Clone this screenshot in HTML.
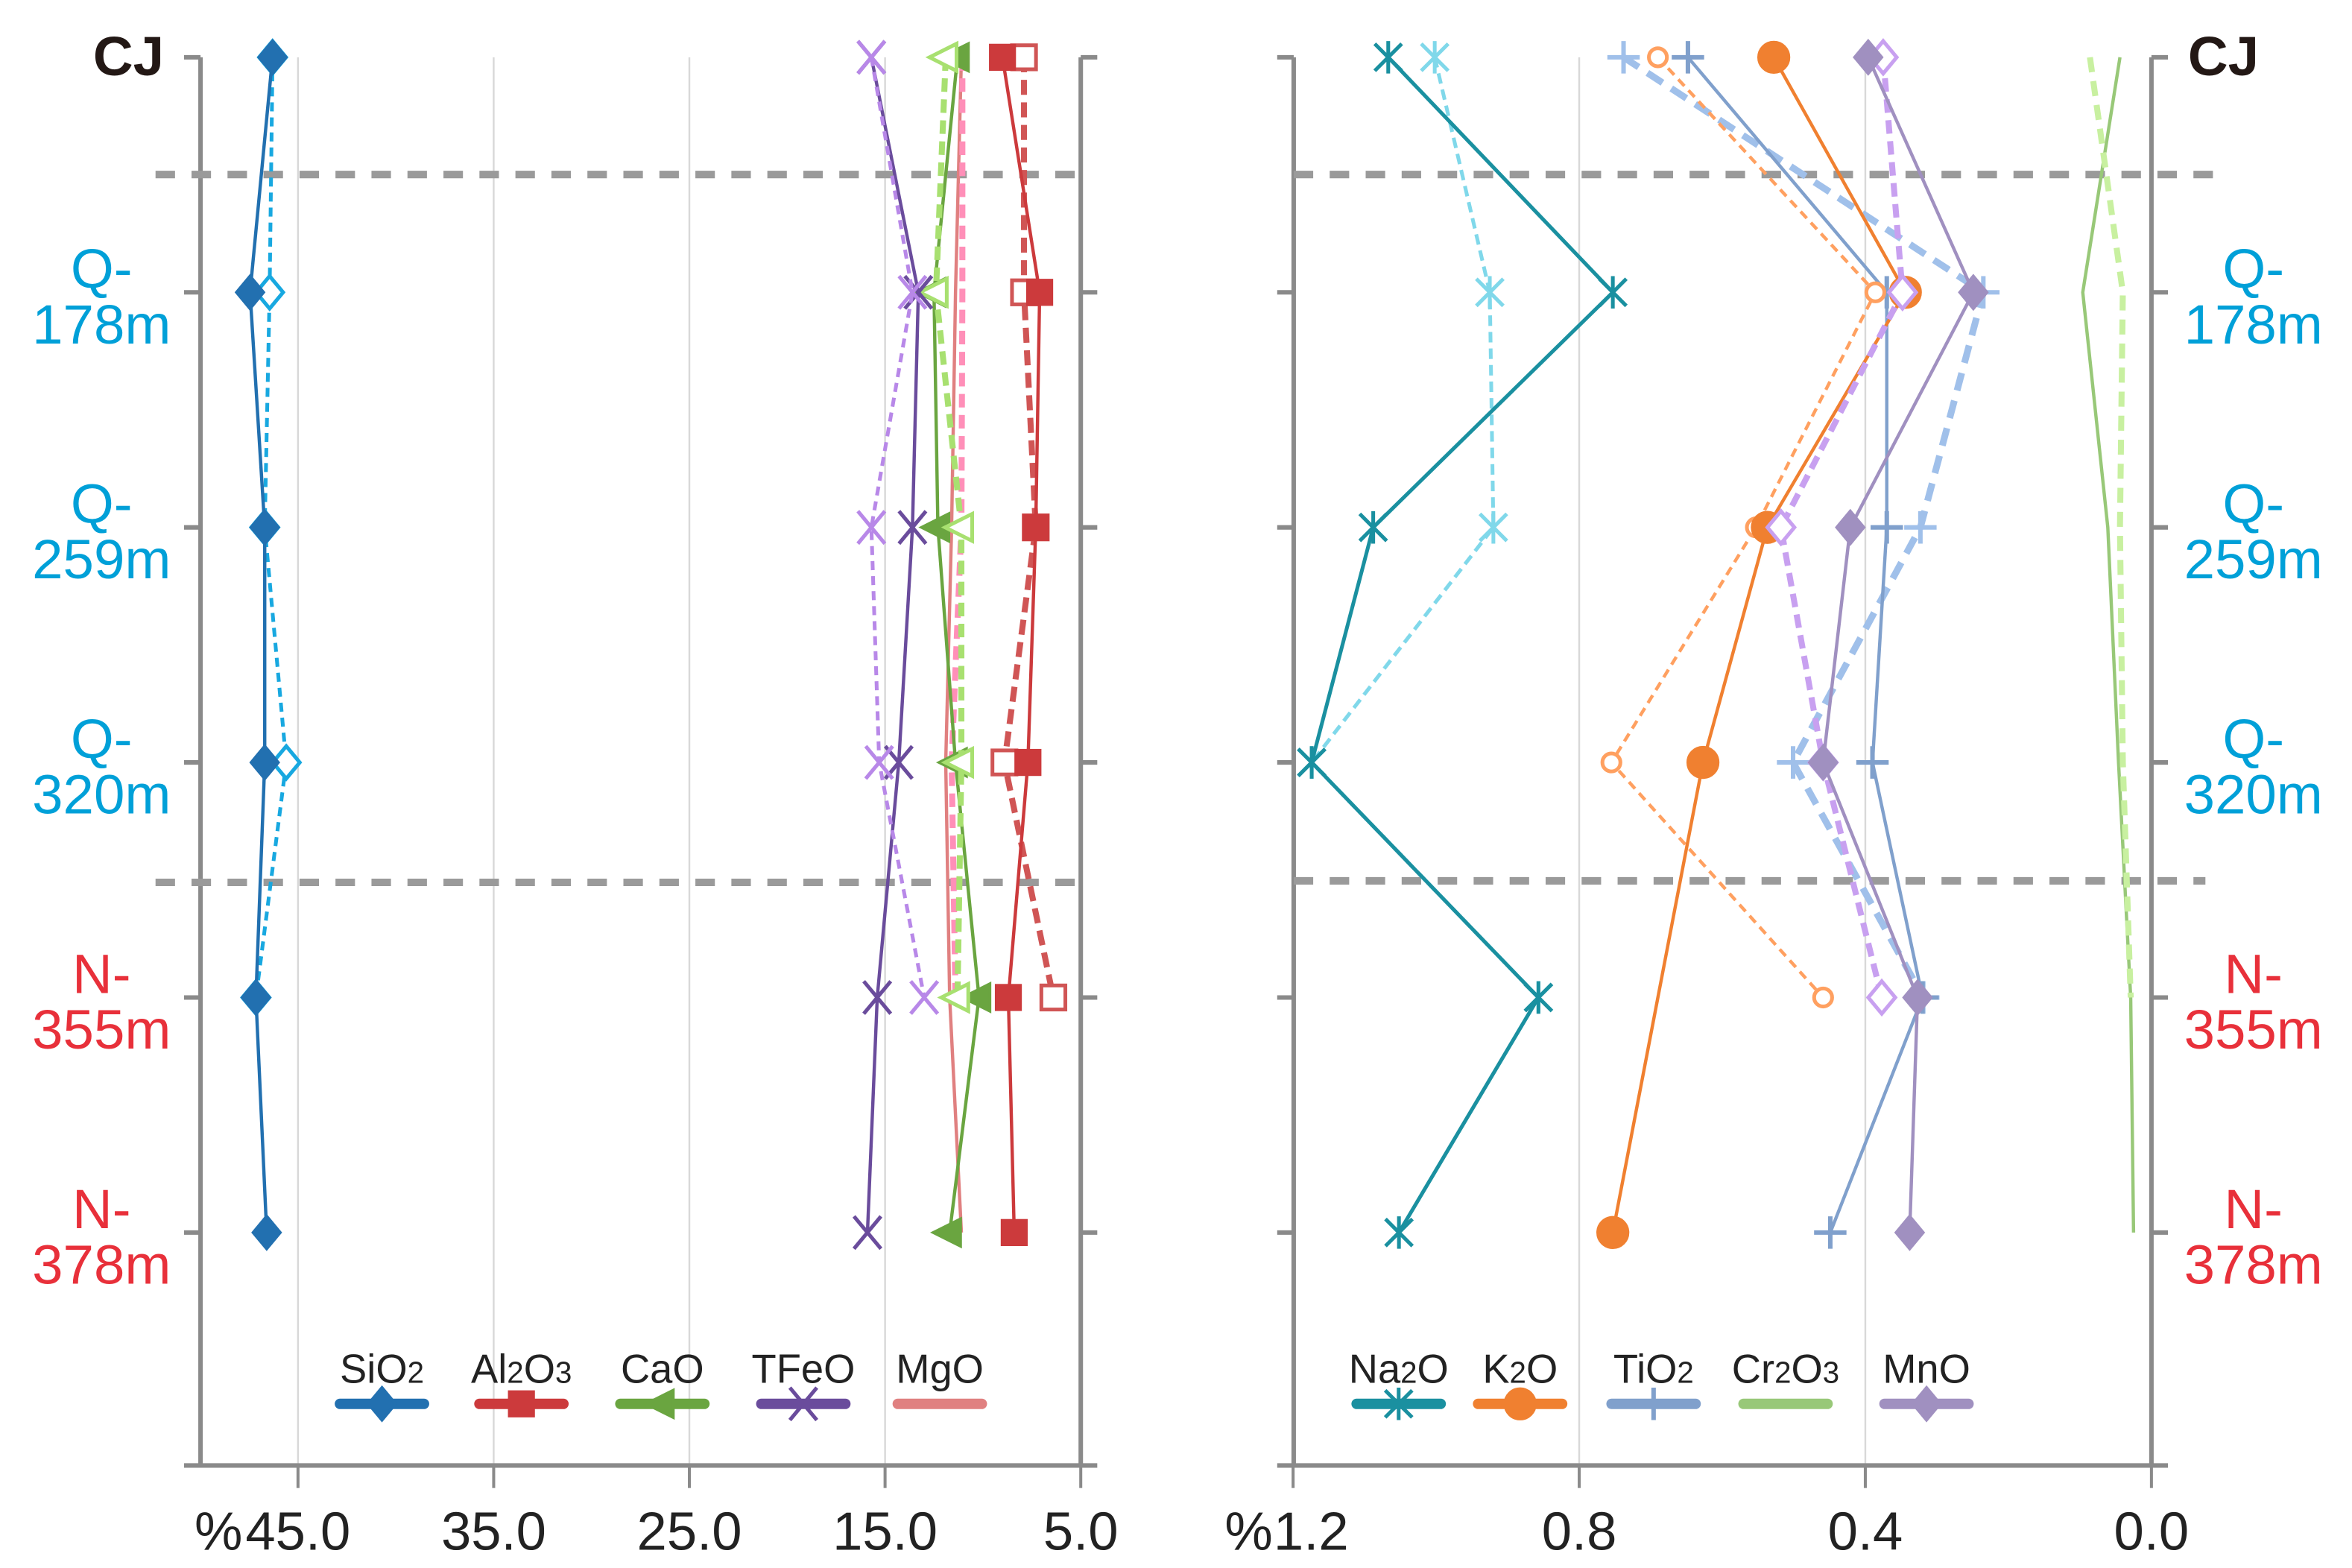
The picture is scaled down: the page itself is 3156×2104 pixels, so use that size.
<!DOCTYPE html>
<html><head><meta charset="utf-8"><style>
html,body{margin:0;padding:0;background:#fff}
svg{display:block}
text{font-family:"Liberation Sans",sans-serif}
</style></head><body>
<svg id="chart" xmlns="http://www.w3.org/2000/svg" width="3156" height="2104" viewBox="0 0 1560 1040"><g id="root" transform="translate(133,38) scale(0.9946,0.9968) translate(-133,-38)"></g></svg>
<script>
const depths = ["CJ","Q-178m","Q-259m","Q-320m","N-355m","N-378m"];
const majorTicks = [45,35,25,15,5];
const minorTicks = [1.2,0.8,0.4,0.0];
const SiO2 = [46.3,47.45,46.7,46.7,47.15,46.6];
const SiO2b = [46.3,46.45,46.7,45.6,47.15];
const Al2O3 = [9.0,7.1,7.3,7.7,8.7,8.4];
const Al2O3b = [7.9,7.9,7.3,8.9,6.4];
const CaO = [11.3,12.5,12.3,11.4,10.2,11.7];
const CaOb = [11.9,12.4,11.1,11.1,11.3];
const TFeO = [15.7,13.3,13.6,14.3,15.4,15.9];
const TFeOb = [15.7,13.6,15.7,15.3,13.0];
const MgO = [11.1,11.4,11.6,11.9,11.7,11.1];
const MgOb = [11.05,11.05,11.1,11.6,11.4];
const Na2O = [1.067,0.753,1.088,1.174,0.857,1.052];
const Na2Ob = [1.002,0.925,0.92,1.174,0.857];
const K2O = [0.528,0.344,0.537,0.627,null,0.753];
const K2Ob = [0.69,0.386,0.553,0.755,0.459];
const TiO2 = [0.648,0.37,0.37,0.39,0.32,0.449];
const TiO2b = [0.738,0.235,0.323,0.501,0.319];
const Cr2O3 = [0.044,0.096,0.061,0.046,0.029,0.025];
const Cr2O3b = [0.086,0.040,0.044,0.040,0.029];
const MnO = [0.396,0.249,0.421,0.459,0.327,0.338];
const MnOb = [0.375,0.348,0.518,0.459,0.377];

const root = document.getElementById('root');
const NS = 'http://www.w3.org/2000/svg';
function mk(tag, attrs, parent){const e=document.createElementNS(NS,tag);for(const k in attrs)e.setAttribute(k,attrs[k]);(parent||root).appendChild(e);return e;}
const yOf = i => 38 + i*156.4;
const xL = v => 720 - (v-5)*13.05;
const xR = v => 1434 - v*477;

[45,35,25,15].forEach(v=>{const g=mk('line',{x1:xL(v),x2:xL(v),y1:38,y2:975,stroke:'#d8d8d8','stroke-width':1.2});

});
[0.8,0.4].forEach(v=>{const g=mk('line',{x1:xR(v),x2:xR(v),y1:38,y2:975,stroke:'#d8d8d8','stroke-width':1.2});

});

function axis(x1,y1,x2,y2,name){const a=mk('line',{x1,y1,x2,y2,stroke:'#8a8a8a','stroke-width':3});

}
axis(133,38,133,975,'left-y-axis');axis(720,38,720,975,'left-right-y-axis');
axis(862,38,862,975,'right-left-y-axis');axis(1434,38,1434,975,'right-y-axis');
axis(122,975,731,975,'left-x-axis');axis(851,975,1445,975,'right-x-axis');
depths.forEach((d,i)=>{const y=yOf(i);
[[122,133],[720,731],[851,862],[1434,1445]].forEach(p=>{const t=mk('line',{x1:p[0],x2:p[1],y1:y,y2:y,stroke:'#8a8a8a','stroke-width':3});

});
const col = d==='CJ'?'#231815':(d[0]==='Q'?'#00a0d8':'#e8303a');
[67,1502].forEach(cx=>{
 const t=mk('text',{x:cx,'text-anchor':'middle',fill:col,'font-size':37});
 
 
 if(d==='CJ'){t.setAttribute('y',y+12);t.setAttribute('font-weight','bold');t.setAttribute('x',cx===67?85:1482);t.textContent='CJ';}
 else{const [a,b]=d.split('-');const s1=mk('tspan',{x:cx,y:y-3},t);s1.textContent=a+'-';const s2=mk('tspan',{x:cx,y:y+34},t);s2.textContent=b;}
});});
majorTicks.forEach(v=>{const x=xL(v);const t=mk('line',{x1:x,x2:x,y1:975,y2:990,stroke:'#8a8a8a','stroke-width':2});


const l=mk('text',{x:x,y:1031,'text-anchor':'middle','font-size':36,fill:'#222'});l.textContent=v.toFixed(1);

});
minorTicks.forEach(v=>{const x=xR(v);const t=mk('line',{x1:x,x2:x,y1:975,y2:990,stroke:'#8a8a8a','stroke-width':2});


const l=mk('text',{x:x+(v===1.2?12:0),y:1031,'text-anchor':'middle','font-size':36,fill:'#222'});l.textContent=v.toFixed(1);

});
[[145,'left'],[832,'right']].forEach(p=>{const l=mk('text',{x:p[0],y:1031,'text-anchor':'middle','font-size':36,fill:'#222'});l.textContent='%';

});

[[103,720,116],[862,1475,116],[103,720,587],[862,1470,586]].forEach(s=>{const l=mk('line',{x1:s[0],x2:s[1],y1:s[2],y2:s[2],stroke:'#9a9a9a','stroke-width':5,'stroke-dasharray':'13 11'});

});

function marker(type,x,y,col,open,g){const s=9;const fill=open?'#fff':col;const sw=open?2.5:2;
 if(type==='diamond')mk('polygon',{points:`${x},${y-s*1.2} ${x+s},${y} ${x},${y+s*1.2} ${x-s},${y}`,fill,stroke:col,'stroke-width':sw},g);
 else if(type==='square')mk('rect',{x:x-s+1,y:y-s+1,width:2*s-2,height:2*s-2,fill,stroke:col,'stroke-width':sw},g);
 else if(type==='tri')mk('polygon',{points:`${x-s*1.2},${y} ${x+s*0.8},${y-s} ${x+s*0.8},${y+s}`,fill,stroke:col,'stroke-width':sw},g);
 else if(type==='x'){mk('path',{d:`M${x-s},${y-s*1.2}L${x+s},${y+s*1.2}M${x-s},${y+s*1.2}L${x+s},${y-s*1.2}`,stroke:col,'stroke-width':2.5,fill:'none'},g);}
 else if(type==='star'){mk('path',{d:`M${x-s},${y-s}L${x+s},${y+s}M${x-s},${y+s}L${x+s},${y-s}M${x},${y-s*1.2}L${x},${y+s*1.2}`,stroke:col,'stroke-width':2.5,fill:'none'},g);}
 else if(type==='circle')mk('circle',{cx:x,cy:y,r:open?6:10,fill,stroke:col,'stroke-width':sw},g);
 else if(type==='plus'){mk('path',{d:`M${x-s*1.2},${y}L${x+s*1.2},${y}M${x},${y-s*1.2}L${x},${y+s*1.2}`,stroke:col,'stroke-width':3,fill:'none'},g);}
}
function series(vals,sx,col,type,dash,width,open,name){
 const g=mk('g',{});
 
 
 const pts=[];vals.forEach((v,i)=>{if(v!==null)pts.push([sx(v),yOf(i)]);});
 const a={points:pts.map(p=>p.join(',')).join(' '),fill:'none',stroke:col,'stroke-width':width};
 if(dash)a['stroke-dasharray']=dash;mk('polyline',a,g);
 if(type)pts.forEach(p=>marker(type,p[0],p[1],col,open,g));
}
series(MgO,xL,'#e08080',null,null,2.2,false,'series-mgo');
series(MgOb,xL,'#ff8fb8',null,'9 5',4,false,'series-mgo-dashed');
series(SiO2b,xL,'#18a8e0','diamond','6 4',2.5,true,'series-sio2-dashed');
series(SiO2,xL,'#2270b0','diamond',null,2.2,false,'series-sio2');
series(Al2O3b,xL,'#d05555','square','10 5',4,true,'series-al2o3-dashed');
series(Al2O3,xL,'#cc3a3c','square',null,2.2,false,'series-al2o3');
series(CaO,xL,'#6aa540','tri',null,2.2,false,'series-cao');
series(CaOb,xL,'#a8e070','tri','9 5',4,true,'series-cao-dashed');
series(TFeO,xL,'#6a4c9c','x',null,2.2,false,'series-tfeo');
series(TFeOb,xL,'#b888e8','x','6 4',2.5,true,'series-tfeo-dashed');

series(Cr2O3,xR,'#98c878',null,null,2.2,false,'series-cr2o3');
series(Cr2O3b,xR,'#c8f0a0',null,'10 6',4,false,'series-cr2o3-dashed');
series(Na2Ob,xR,'#80d8ea','star','7 4',2.5,false,'series-na2o-dashed');
series(Na2O,xR,'#1a90a0','star',null,2.5,false,'series-na2o');
series(TiO2b,xR,'#a0c0ea','plus','12 7',4.5,false,'series-tio2-dashed');
series(TiO2,xR,'#80a0cc','plus',null,2.2,false,'series-tio2');
series(K2Ob,xR,'#ffa060','circle','6 4',2.2,true,'series-k2o-dashed');
series(K2O,xR,'#f08030','circle',null,2.2,false,'series-k2o');
series(MnOb,xR,'#c8a0f0','diamond','9 5',4,true,'series-mno-dashed');
series(MnO,xR,'#a090c0','diamond',null,2.2,false,'series-mno');

const legL=[['SiO','2','',254,'#2270b0','diamond'],['Al','2','O3',347,'#cc3a3c','square'],['CaO','','',441,'#6aa540','tri'],['TFeO','','',535,'#6a4c9c','x'],['MgO','','',626,'#e08080',null]];
const legR=[['Na','2','O',932,'#1a90a0','star'],['K','2','O',1013,'#f08030','circle'],['TiO','2','',1102,'#80a0cc','plus'],['Cr','2','O3',1190,'#98c878',null],['MnO','','',1284,'#a090c0','diamond']];
legL.concat(legR).forEach(e=>{const g=mk('g',{});
 
 
 const t=mk('text',{x:e[3],y:920,'text-anchor':'middle','font-size':27,fill:'#222'},g);
 t.appendChild(document.createTextNode(e[0]));
 if(e[1]){const sp=mk('tspan',{'font-size':20},t);sp.textContent=e[1];}
 if(e[2]){const tail=e[2];if(tail==='O3'){const a=mk('tspan',{},t);a.textContent='O';const b=mk('tspan',{'font-size':20},t);b.textContent='3';}else{const a=mk('tspan',{},t);a.textContent=tail;}}
 mk('line',{x1:e[3]-28,x2:e[3]+28,y1:934,y2:934,stroke:e[4],'stroke-width':7,'stroke-linecap':'round'},g);
 if(e[5])marker(e[5],e[3],934,e[4],false,g);
});
</script>
</body></html>
